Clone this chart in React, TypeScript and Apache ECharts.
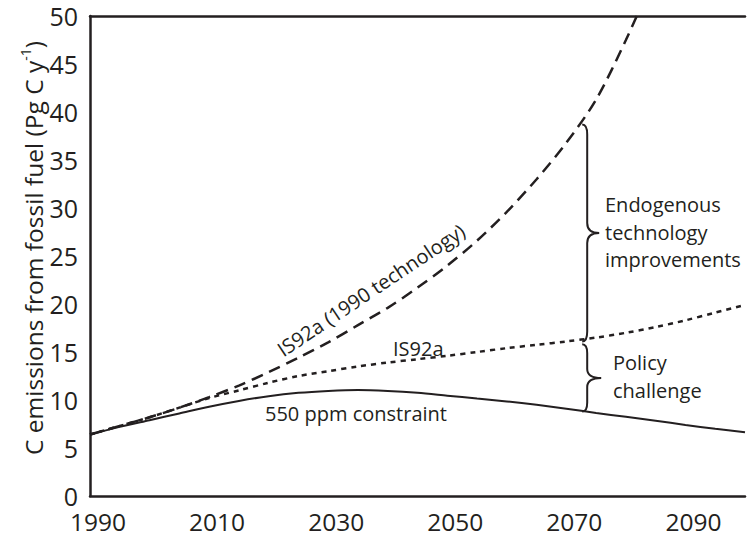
import React, { useEffect, useRef } from "react";
import * as echarts from "echarts";

const years = [1990, 1995, 2000, 2005, 2010, 2015, 2020, 2025, 2030, 2035, 2040, 2045, 2050, 2055, 2060, 2065, 2070, 2075, 2080, 2085, 2090, 2095, 2100];
const is92a1990Tech = [6.4, 7.3, 8.2, 9.2, 10.3, 11.5, 12.9, 14.4, 16.0, 17.8, 19.6, 21.7, 24.0, 26.6, 29.6, 33.0, 36.8, 41.3, 47.5, 54.5];
const is92a = [6.4, 7.3, 8.2, 9.2, 10.2, 11.0, 11.8, 12.5, 13.0, 13.5, 13.9, 14.25, 14.6, 15.0, 15.4, 15.75, 16.1, 16.5, 17.0, 17.6, 18.3, 19.1, 19.9];
const ppm550 = [6.4, 7.2, 7.9, 8.6, 9.3, 9.9, 10.4, 10.75, 10.95, 11.05, 10.95, 10.75, 10.45, 10.15, 9.85, 9.5, 9.1, 8.65, 8.25, 7.85, 7.4, 7.0, 6.65];
const xTickLabels = [1990, 2010, 2030, 2050, 2070, 2090];
const braceYear = 2073.5;
const braceEndo = [16.1, 38.7];
const bracePolicy = [8.8, 15.8];

const INK = "#231f20";
const FONT = "'Open Sans', 'Noto Sans', sans-serif";

function pairs(vals: number[]) {
  return vals.map((v, i) => [years[i], v]);
}

function bracePath(xl: number, y1: number, y2: number, tw: number, h: number, r: number) {
  const ym = (y1 + y2) / 2;
  return [
    `M ${xl - h} ${y1}`,
    `Q ${xl} ${y1} ${xl} ${y1 + r}`,
    `L ${xl} ${ym - r}`,
    `Q ${xl} ${ym} ${xl + tw} ${ym}`,
    `Q ${xl} ${ym} ${xl} ${ym + r}`,
    `L ${xl} ${y2 - r}`,
    `Q ${xl} ${y2} ${xl - h} ${y2}`,
  ].join(" ");
}

export default function App() {
  const ref = useRef<HTMLDivElement>(null);
  useEffect(() => {
    if (!ref.current) return;
    const chart = echarts.init(ref.current, undefined, { renderer: "svg" });
    const axisLine = { show: true, lineStyle: { color: INK, width: 2.5 } };
    chart.setOption({
      animation: false,
      grid: { left: 90, right: 3, top: 16, bottom: 42, outerBoundsMode: "none", containLabel: false },
      xAxis: [
        {
          type: "value",
          min: 1990,
          max: 2100,
          interval: 20,
          axisLine,
          axisTick: { show: false },
          splitLine: { show: false },
          axisLabel: { show: false },
        },
        {
          type: "value",
          position: "top",
          min: 1990,
          max: 2100,
          axisLine,
          axisTick: { show: false },
          axisLabel: { show: false },
          splitLine: { show: false },
        },
      ],
      yAxis: {
        type: "value",
        min: 0,
        max: 50,
        interval: 5,
        axisLine,
        axisTick: { show: false },
        splitLine: { show: false },
        axisLabel: { color: INK, fontSize: 25, fontFamily: FONT, lineHeight: 20, margin: 12 },
      },
      series: [
        {
          name: "IS92a (1990 technology)",
          type: "line",
          data: pairs(is92a1990Tech),
          smooth: 0.3,
          symbol: "none",
          lineStyle: { color: INK, width: 2.5, type: [12, 7] },
        },
        {
          name: "IS92a",
          type: "line",
          data: pairs(is92a),
          smooth: 0.3,
          symbol: "none",
          lineStyle: { color: INK, width: 2.5, type: [5, 5] },
        },
        {
          name: "550 ppm constraint",
          type: "line",
          data: pairs(ppm550),
          smooth: 0.3,
          symbol: "none",
          lineStyle: { color: INK, width: 2 },
        },
      ],
    });

    const toPx = (x: number, v: number) => chart.convertToPixel({ gridIndex: 0 }, [x, v]) as number[];
    const e1 = toPx(braceYear, braceEndo[1]);
    const e2 = toPx(braceYear, braceEndo[0]);
    const p1 = toPx(braceYear, bracePolicy[1]);
    const p2 = toPx(braceYear, bracePolicy[0]);
    echarts.graphic.registerShape(
      "braceEndo",
      echarts.graphic.extendPath(bracePath(e1[0], e1[1], e2[1], 12, 5, 10), {})
    );
    echarts.graphic.registerShape(
      "bracePolicy",
      echarts.graphic.extendPath(bracePath(p1[0], p1[1], p2[1], 14, 5, 9), {})
    );
    const txt = (text: string, x: number, y: number, extra: any = {}) => ({
      type: "text",
      x,
      y,
      silent: true,
      ...extra,
      style: {
        text,
        fill: INK,
        fontSize: 20,
        fontFamily: FONT,
        align: "left",
        verticalAlign: "middle",
        ...(extra.style || {}),
      },
    });
    const xLabels = xTickLabels.map((yr) => {
      const p = toPx(yr, 0);
      return txt(String(yr), p[0] + 8, p[1] + 25, {
        style: { fontSize: 24.5, align: "center", lineHeight: 26 },
      });
    });
    chart.setOption({
      graphic: [
        ...xLabels,
        { type: "braceEndo", x: 0, y: 0, silent: true, style: { fill: "none", stroke: INK, lineWidth: 2 } },
        { type: "bracePolicy", x: 0, y: 0, silent: true, style: { fill: "none", stroke: INK, lineWidth: 2 } },
        txt("550 ppm constraint", 265, 413),
        txt("IS92a", 393, 348),
        txt("IS92a (1990 technology)", 371, 290, { rotation: 0.59, style: { align: "center" } }),
        txt("Endogenous\ntechnology\nimprovements", 605, 191, { style: { verticalAlign: "top", lineHeight: 27.5 } }),
        txt("Policy\nchallenge", 613, 348, { style: { verticalAlign: "top", lineHeight: 28 } }),
        {
          type: "text",
          x: 33,
          y: 248,
          rotation: Math.PI / 2,
          silent: true,
          style: {
            text: "{a|C emissions from fossil fuel (Pg C y}{s|-1}{a|)}",
            align: "center",
            verticalAlign: "middle",
            rich: {
              a: { fontSize: 24.5, fontFamily: FONT, fill: INK, lineHeight: 30 },
              s: { fontSize: 14, fontFamily: FONT, fill: INK, lineHeight: 14, verticalAlign: "top" },
            },
          },
        },
      ],
    });
    return () => chart.dispose();
  }, []);
  return (
    <div
      ref={ref}
      style={{ position: "fixed", left: 0, top: 0, width: 748, height: 538, background: "#fff" }}
    />
  );
}
